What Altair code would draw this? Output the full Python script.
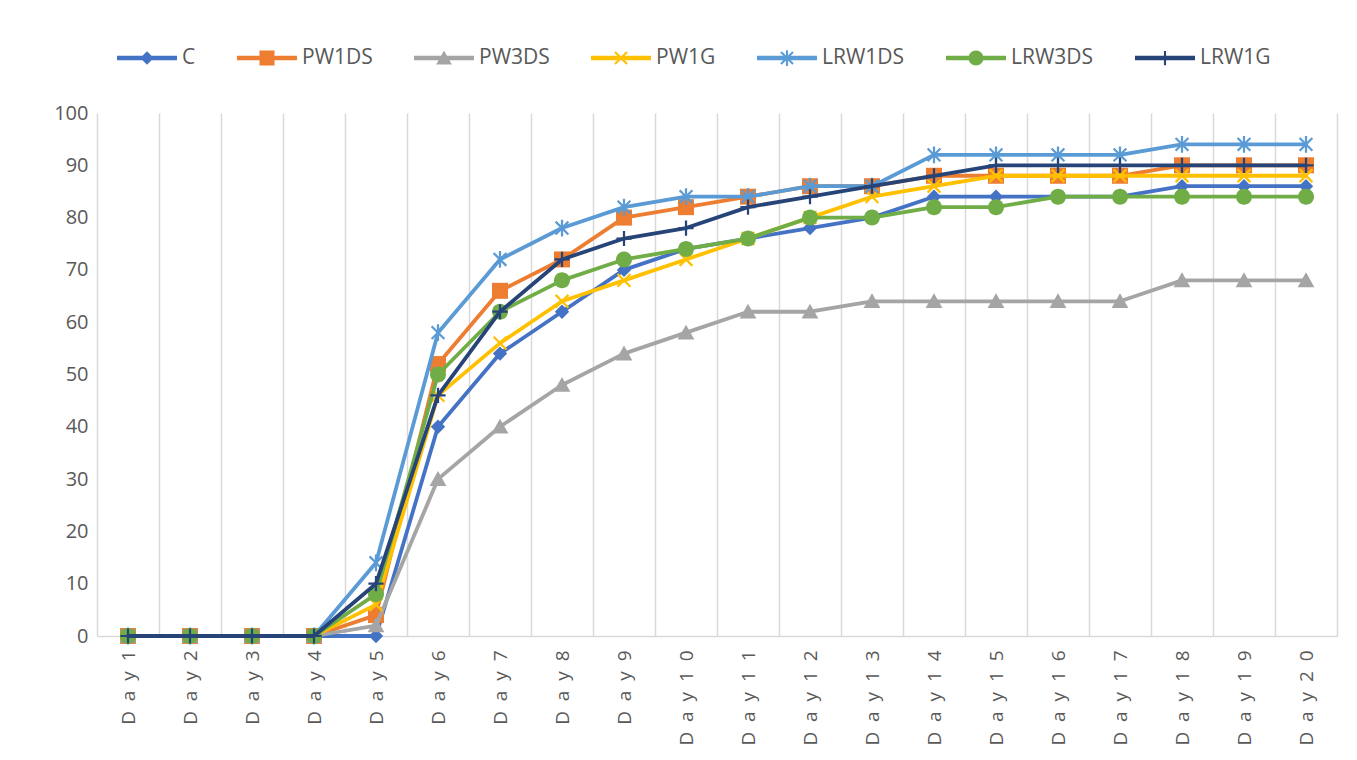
import altair as alt
import pandas as pd

# ---------------- data ----------------
days = ["Day 1", "Day 2", "Day 3", "Day 4", "Day 5", "Day 6", "Day 7", "Day 8",
        "Day 9", "Day 10", "Day 11", "Day 12", "Day 13", "Day 14", "Day 15",
        "Day 16", "Day 17", "Day 18", "Day 19", "Day 20"]

series = ["C", "PW1DS", "PW3DS", "PW1G", "LRW1DS", "LRW3DS", "LRW1G"]

C      = [0, 0, 0, 0, 0, 40, 54, 62, 70, 74, 76, 78, 80, 84, 84, 84, 84, 86, 86, 86]
PW1DS  = [0, 0, 0, 0, 4, 52, 66, 72, 80, 82, 84, 86, 86, 88, 88, 88, 88, 90, 90, 90]
PW3DS  = [0, 0, 0, 0, 2, 30, 40, 48, 54, 58, 62, 62, 64, 64, 64, 64, 64, 68, 68, 68]
PW1G   = [0, 0, 0, 0, 6, 46, 56, 64, 68, 72, 76, 80, 84, 86, 88, 88, 88, 88, 88, 88]
LRW1DS = [0, 0, 0, 0, 14, 58, 72, 78, 82, 84, 84, 86, 86, 92, 92, 92, 92, 94, 94, 94]
LRW3DS = [0, 0, 0, 0, 8, 50, 62, 68, 72, 74, 76, 80, 80, 82, 82, 84, 84, 84, 84, 84]
LRW1G  = [0, 0, 0, 0, 10, 46, 62, 72, 76, 78, 82, 84, 86, 88, 90, 90, 90, 90, 90, 90]

values = {"C": C, "PW1DS": PW1DS, "PW3DS": PW3DS, "PW1G": PW1G,
          "LRW1DS": LRW1DS, "LRW3DS": LRW3DS, "LRW1G": LRW1G}

rows = []
for s in series:
    for d, v in zip(days, values[s]):
        rows.append({"day": d, "series": s, "value": v})
df = pd.DataFrame(rows)

# ---------------- styles ----------------
colors = ["#4472C4", "#ED7D31", "#A5A5A5", "#FFC000", "#5B9BD5", "#70AD47", "#264478"]
FONT = "Open Sans"
TEXT = "#595959"
GRID = "#d9d9d9"
NBSP = "\u00a0"


def _area(pts):
    a = 0.0
    for i in range(len(pts)):
        x1, y1 = pts[i]
        x2, y2 = pts[(i + 1) % len(pts)]
        a += x1 * y2 - x2 * y1
    return a


def poly(pts, s=1.0):
    pts = [(x * s, y * s) for x, y in pts]
    if _area(pts) < 0:
        pts = pts[::-1]
    return "M" + "L".join(f"{x:.4f},{y:.4f}" for x, y in pts) + "Z"


def bar(p, q, t, s=1.0):
    (x1, y1), (x2, y2) = p, q
    L = ((x2 - x1) ** 2 + (y2 - y1) ** 2) ** 0.5
    nx, ny = -(y2 - y1) / L * t, (x2 - x1) / L * t
    return poly([(x1 + nx, y1 + ny), (x2 + nx, y2 + ny),
                 (x2 - nx, y2 - ny), (x1 - nx, y1 - ny)], s)


def circle(r, s=1.0):
    r = r * s
    return f"M{-r:.4f},0A{r:.4f},{r:.4f} 0 1 1 {r:.4f},0A{r:.4f},{r:.4f} 0 1 1 {-r:.4f},0Z"


def marker(name, s=1.0):
    if name == "C":
        return poly([(0, -0.9), (0.9, 0), (0, 0.9), (-0.9, 0)], s)
    if name == "PW1DS":
        return poly([(-1.0, -1.0), (1.0, -1.0), (1.0, 1.0), (-1.0, 1.0)], s)
    if name == "PW3DS":
        return poly([(0, -1.0), (1.05, 0.85), (-1.05, 0.85)], s)
    if name == "PW1G":
        return (bar((-0.8, -0.8), (0.8, 0.8), 0.14, s)
                + bar((-0.8, 0.8), (0.8, -0.8), 0.14, s))
    if name == "LRW1DS":
        return (bar((-0.8, -0.8), (0.8, 0.8), 0.14, s)
                + bar((-0.8, 0.8), (0.8, -0.8), 0.14, s)
                + bar((0, -1.05), (0, 1.05), 0.14, s))
    if name == "LRW3DS":
        return circle(1.0, s)
    # LRW1G: plus
    return bar((0, -0.95), (0, 0.95), 0.14, s) + bar((-0.95, 0), (0.95, 0), 0.14, s)


MARKER_SIZE = 256          # 16 px box -> unit = 8 px
LEGEND_SIZE = 3600         # 60 px box -> unit = 30 px
plot_paths = [marker(s) for s in series]
leg_scale = 7.5 / 30.0
legend_paths = [bar((-1, 0), (1, 0), 0.075) + marker(s, leg_scale) for s in series]

# ---------------- encodings ----------------
label_expr = ("join(split(replace(datum.label, ' ', ''), ''), '" + NBSP + NBSP + "')")

x_enc = alt.X(
    "day:N", sort=days, bandPosition=0.5,
    scale=alt.Scale(type="band", domain=days, paddingInner=0, paddingOuter=0),
    axis=alt.Axis(title=None, grid=True, gridColor=GRID, gridWidth=1.5,
                  tickBand="extent", ticks=False, domainColor=GRID, domainWidth=1.5,
                  labelAngle=-90, labelFont=FONT, labelFontSize=19, labelColor=TEXT,
                  labelPadding=14, labelExpr=label_expr),
)
y_enc = alt.Y(
    "value:Q",
    scale=alt.Scale(domain=[0, 100], nice=False, zero=True),
    axis=alt.Axis(title=None, grid=False, domain=False, ticks=False,
                  values=list(range(0, 101, 10)), labelFont=FONT, labelFontSize=20,
                  labelColor=TEXT, labelPadding=9),
)
color_scale = alt.Scale(domain=series, range=colors)

leg = alt.Legend(title=None, orient="none", legendX=20, legendY=-85,
                 direction="horizontal", symbolSize=LEGEND_SIZE, symbolStrokeWidth=0,
                 symbolFillColor="black",
                 labelFont=FONT, labelFontSize=21, labelColor=TEXT, labelOffset=5,
                 columnPadding=41)

base = alt.Chart(df)

# legend carrier: drawn first (underneath) at the Day 1 points, tiny and hidden
legend_layer = (
    base.transform_filter(alt.datum.day == days[0])
    .mark_point(filled=True, opacity=1)
    .encode(
        x=x_enc, y=y_enc,
        fill=alt.Fill("series:N", scale=alt.Scale(domain=series, range=colors),
                      legend=leg),
        shape=alt.Shape("series:N",
                        scale=alt.Scale(domain=series, range=legend_paths),
                        legend=leg),
    )
)

layers = [legend_layer]
for s, path in zip(series, plot_paths):
    sub = base.transform_filter(alt.datum.series == s)
    layers.append(
        sub.mark_line(strokeWidth=3.8, strokeJoin="round", strokeCap="round").encode(
            x=x_enc, y=y_enc,
            color=alt.Color("series:N", scale=color_scale, legend=None),
        )
    )
    layers.append(
        sub.mark_point(filled=True, opacity=1, size=MARKER_SIZE, shape=path).encode(
            x=x_enc, y=y_enc,
            color=alt.Color("series:N", scale=color_scale, legend=None),
        )
    )

chart = (
    alt.layer(*layers)
    .properties(
        width=1240, height=523,
        autosize=alt.AutoSizeParams(type="none"),
        padding={"left": 89, "top": 105, "right": 10, "bottom": 118},
    )
    .configure_view(stroke=None)
)

chart.save("out.html", embed_options={"renderer": "svg", "actions": False})
